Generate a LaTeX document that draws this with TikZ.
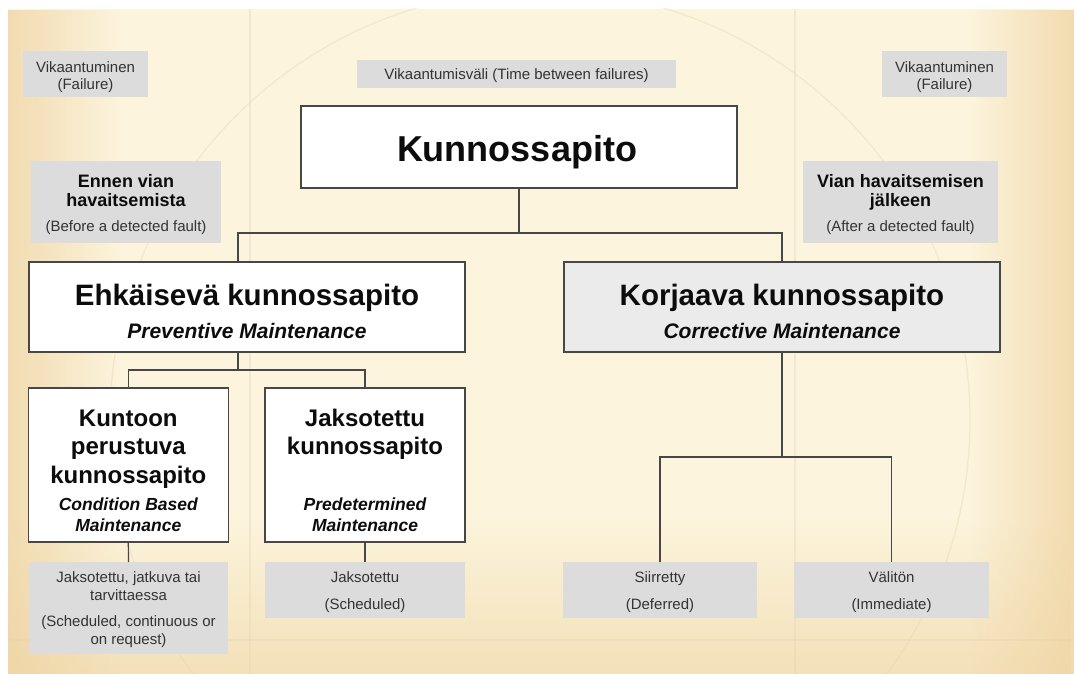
\documentclass[tikz,border=0pt]{standalone}
\usepackage{fontspec}
\setmainfont{Liberation Sans}
\usetikzlibrary{fadings}
\definecolor{parchM}{HTML}{FCF4DC}
\definecolor{parchL}{HTML}{EFD3A2}
\definecolor{parchR}{HTML}{F0D5A4}
\definecolor{parchB}{HTML}{F2DCB0}
\definecolor{sketch}{HTML}{E4D2AE}
\definecolor{boxline}{HTML}{474747}
\definecolor{graybg}{HTML}{DCDCDC}
\definecolor{lightbox}{HTML}{EBEBEB}
\definecolor{smalltext}{HTML}{333333}
\definecolor{bigtext}{HTML}{0C0C0C}
\newcommand\topstrut[1]{\rule{0pt}{#1pt}}
\begin{document}
\begin{tikzpicture}[x=1pt,y=-1pt,
  whitebox/.style={draw=boxline, line width=1.4pt, fill=white, inner sep=0, outer sep=0},
  corrbox/.style={whitebox, fill=lightbox},
  graybox/.style={fill=graybg, draw=none, inner sep=0, outer sep=0},
  conn/.style={draw=boxline, line width=1.2pt},
  txt/.style={inner sep=0, align=center},
  small/.style={txt, font=\fontsize{15}{17.6}\selectfont, text=smalltext},
  midbold/.style={txt, font=\fontsize{18}{19.5}\selectfont\bfseries, text=bigtext},
  hugebold/.style={txt, font=\fontsize{36}{40}\selectfont\bfseries, text=bigtext},
  bigbold/.style={txt, font=\fontsize{29.5}{33}\selectfont\bfseries, text=bigtext},
  bigital/.style={txt, font=\fontsize{21}{24}\selectfont\bfseries\itshape, text=bigtext},
  subbold/.style={txt, font=\fontsize{24}{28.7}\selectfont\bfseries, text=bigtext},
  subital/.style={txt, font=\fontsize{17.5}{21}\selectfont\bfseries\itshape, text=bigtext}
]
\useasboundingbox (0,0) rectangle (1074,674);
\fill[white] (0,0) rectangle (1074,674);
% parchment background
\begin{scope}
  \clip (8,9) rectangle (1074,674);
  \fill[parchM] (8,9) rectangle (1074,674);
  \fill[parchB, path fading=north, fill opacity=0.8] (8,520) rectangle (1074,674);
  \fill[parchL, path fading=east, fill opacity=0.75] (8,9) rectangle (120,674);
  \fill[parchR, path fading=west, fill opacity=0.8] (970,9) rectangle (1074,674);
  \begin{scope}[draw opacity=0.35, line width=1.3pt]
    \draw[sketch] (540,420) circle[radius=430];
    \draw[sketch] (250,9) -- (250,674);
    \draw[sketch] (795,9) -- (795,674);
    \draw[sketch] (8,640) -- (1074,640);
  \end{scope}
\end{scope}

% boxes
\node[graybox, minimum width=125, minimum height=46] (fl1) at (85.5,74) {};
\node[graybox, minimum width=319, minimum height=28] (tbf) at (516.5,74) {};
\node[graybox, minimum width=125, minimum height=46] (fl2) at (944.5,74) {};
\node[whitebox, minimum width=436, minimum height=82] (kp) at (519,147) {};
\node[graybox, minimum width=190, minimum height=81] (before) at (126,202) {};
\node[graybox, minimum width=195, minimum height=81] (after) at (900.5,202) {};
\node[whitebox, minimum width=436, minimum height=90] (ehk) at (247,307) {};
\node[corrbox, minimum width=436, minimum height=90] (kor) at (782,307) {};
\node[whitebox, minimum width=200, minimum height=154] (cbm) at (128.3,465) {};
\node[whitebox, minimum width=200, minimum height=154] (pdm) at (365,465) {};
\node[graybox, minimum width=199, minimum height=92] (cbmsub) at (128.5,608) {};
\node[graybox, minimum width=200, minimum height=56] (pdmsub) at (365,590) {};
\node[graybox, minimum width=194, minimum height=56] (def) at (660,590) {};
\node[graybox, minimum width=195, minimum height=56] (imm) at (891.5,590) {};

% texts
\node[small, anchor=north] (t_fl1) at (85.5,56) {\topstrut{16}Vikaantuminen\\(Failure)};
\node[small, anchor=base] (t_tbf) at (516.5,80) {Vikaantumisväli (Time between failures)};
\node[small, anchor=north] (t_fl2) at (944.5,56) {\topstrut{16}Vikaantuminen\\(Failure)};
\node[hugebold, anchor=base] (t_kp) at (517,162) {Kunnossapito};
\node[midbold, anchor=north] (t_before1) at (126,167) {\topstrut{20}Ennen vian\\havaitsemista};
\node[small, anchor=base] (t_before2) at (126,231.5) {(Before a detected fault)};
\node[midbold, anchor=north] (t_after1) at (900.5,167) {\topstrut{20}Vian havaitsemisen\\jälkeen};
\node[small, anchor=base] (t_after2) at (900.5,231.5) {(After a detected fault)};
\node[bigbold, anchor=base] (t_ehk1) at (247,305) {Ehkäisevä kunnossapito};
\node[bigital, anchor=base] (t_ehk2) at (247,338) {Preventive Maintenance};
\node[bigbold, anchor=base] (t_kor1) at (782,305) {Korjaava kunnossapito};
\node[bigital, anchor=base] (t_kor2) at (782,338) {Corrective Maintenance};
\node[subbold, anchor=north] (t_cbm1) at (128.3,399) {\topstrut{27}Kuntoon\\perustuva\\kunnossapito};
\node[subital, anchor=north] (t_cbm2) at (128.3,490.7) {\topstrut{20}Condition Based\\Maintenance};
\node[subbold, anchor=north] (t_pdm1) at (365,399) {\topstrut{27}Jaksotettu\\kunnossapito};
\node[subital, anchor=north] (t_pdm2) at (365,490.7) {\topstrut{20}Predetermined\\Maintenance};
\node[small, anchor=north] (t_cbs1) at (128.5,566.5) {\topstrut{16}Jaksotettu, jatkuva tai\\tarvittaessa};
\node[small, anchor=north] (t_cbs2) at (128.5,610.5) {\topstrut{16}(Scheduled, continuous or\\on request)};
\node[small, anchor=base] (t_pds1) at (365,582.5) {Jaksotettu};
\node[small, anchor=base] (t_pds2) at (365,609.5) {(Scheduled)};
\node[small, anchor=base] (t_def1) at (660,582.5) {Siirretty};
\node[small, anchor=base] (t_def2) at (660,609.5) {(Deferred)};
\node[small, anchor=base] (t_imm1) at (891.5,582.5) {Välitön};
\node[small, anchor=base] (t_imm2) at (891.5,609.5) {(Immediate)};

% connectors
\coordinate (bus1) at (0,233);
\coordinate (bus2) at (0,370);
\coordinate (bus3) at (0,457);
\coordinate (ehkx) at (238,0);
\draw[conn] (kp.south) -- (kp.south |- bus1);
\draw[conn] (ehkx |- ehk.north) |- (kor.north |- bus1) -- (kor.north);
\draw[conn] (ehkx |- ehk.south) -- (ehkx |- bus2);
\draw[conn] (cbm.north) |- (pdm.north |- bus2) -- (pdm.north);
\draw[conn] (cbm.south) -- (cbmsub.north);
\draw[conn] (pdm.south) -- (pdmsub.north);
\draw[conn] (kor.south) -- (kor.south |- bus3);
\draw[conn] (def.north) |- (imm.north |- bus3) -- (imm.north);
\end{tikzpicture}
\end{document}
